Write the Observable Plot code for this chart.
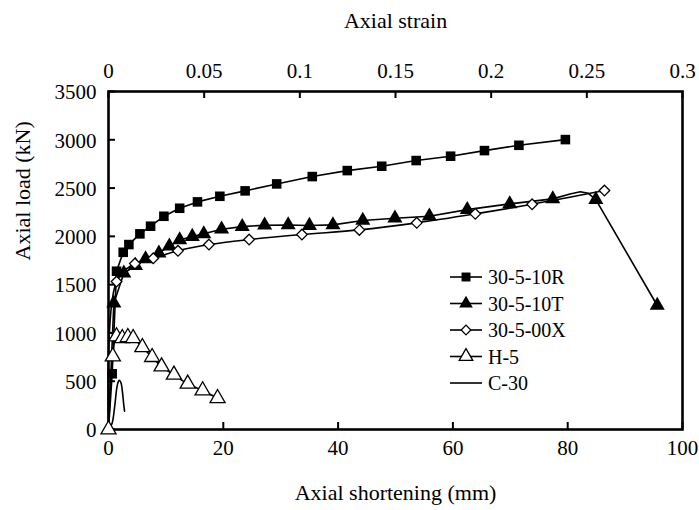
<!DOCTYPE html>
<html><head><meta charset="utf-8">
<script src="https://cdn.jsdelivr.net/npm/d3@7"></script>
<script src="https://cdn.jsdelivr.net/npm/@observablehq/plot@0.6"></script>
<style>body{margin:0;background:#fff;} #chart svg{font-family:"Liberation Serif","Times New Roman",serif;}</style>
</head><body><div id="chart"></div>
<script>
// ---- data (axial shortening mm, axial load kN) ----
const seriesNames = ["30-5-10R", "30-5-10T", "30-5-00X", "H-5", "C-30"];
const r10 = [[0.64,577],[1.4,1639],[2.56,1835],[3.55,1915],[5.47,2026],[7.33,2105],[9.65,2208],[12.4,2291],[15.5,2357],[19.4,2415],[23.8,2471],[29.3,2543],[35.5,2619],[41.6,2681],[47.6,2726],[53.6,2785],[59.6,2830],[65.5,2888],[71.5,2943],[79.6,3002]];
const t10 = [[0.93,1308],[2.67,1618],[4.7,1698],[6.46,1767],[8.78,1826],[10.6,1898],[12.4,1963],[14.6,1998],[16.6,2026],[19.7,2074],[23.3,2101],[27.2,2115],[31.3,2118],[35.0,2112],[39.1,2119],[44.3,2164],[49.9,2188],[55.9,2208],[62.5,2277],[69.9,2336],[77.4,2388],[84.9,2381],[95.6,1284]];
const t10Unmarked = [[80.4,2438],[82.2,2462],[83.6,2446]];
const x00 = [[1.4,1532],[4.6,1718],[7.8,1773],[12.1,1850],[17.5,1915],[24.5,1967],[33.7,2019],[43.7,2067],[53.7,2140],[63.9,2233],[73.8,2332],[86.4,2474]];
const h5 = [[0,0],[0.75,756],[1.4,963],[2.4,945],[3.37,956],[4.3,945],[5.9,852],[7.6,749],[9.25,652],[11.4,566],[13.8,473],[16.4,404],[19.0,324]];
const c30 = [[0,0],[0.6,60],[1.1,250],[1.45,430],[1.75,500],[1.95,508],[2.2,480],[2.45,380],[2.65,260],[2.8,190]];
const origin = [[0,0]];

const xTicks = [0,20,40,60,80,100];
const yTicks = [0,500,1000,1500,2000,2500,3000,3500];
const strainTicks = [0,0.05,0.1,0.15,0.2,0.25,0.3];
const strainLabels = ["0","0.05","0.1","0.15","0.2","0.25","0.3"];
const strainAtXMax = 0.3;   // top axis: strain 0.3 at 100 mm
const xMax = 100;

// ---- layout ----
const W = 699, H = 510, mL = 108, mR = 17, mT = 91, mB = 81;
const pw = W - mL - mR, ph = H - mT - mB;
const serif = "'Liberation Serif', 'Times New Roman', serif";

const pts = (a, s) => a.map(([x, y]) => ({x, y, s}));
const byX = (a) => a.slice().sort((p, q) => p.x - q.x);
const lineR = pts([...origin, ...r10], seriesNames[0]);
const lineT = byX(pts([...origin, ...t10, ...t10Unmarked], seriesNames[1]));
const lineX = pts([...origin, ...x00], seriesNames[2]);
const lineH = pts(h5, seriesNames[3]);
const lineC = pts(c30, seriesNames[4]);
const strainPos = strainTicks.map(s => s / strainAtXMax * xMax);

const lineOpts = {x: "x", y: "y", stroke: "black", strokeWidth: 1.6};

const chart = Plot.plot({
  width: W, height: H,
  marginLeft: mL, marginRight: mR, marginTop: mT, marginBottom: mB,
  style: {fontSize: "21px", fontFamily: serif, background: "white", color: "black"},
  x: {domain: [0, xMax]},
  y: {domain: [0, 3500]},
  marks: [
    Plot.axisX(xTicks, {anchor: "bottom", tickSize: 0, tickPadding: 11, label: null, fontFamily: serif, fontSize: 21, tickFormat: d3.format("d")}),
    Plot.axisX(strainPos, {anchor: "top", tickSize: 0, tickPadding: 14, label: null, fontFamily: serif, fontSize: 21,
      tickFormat: d => strainLabels[strainPos.indexOf(d)]}),
    Plot.axisY(yTicks, {anchor: "left", tickSize: 0, tickPadding: 12, label: null, fontFamily: serif, fontSize: 21, dy: 1, tickFormat: d3.format("d")}),
    Plot.tickX(xTicks, {x: d => d, insetTop: ph - 7, strokeWidth: 2, stroke: "black"}),
    Plot.tickX(strainPos, {x: d => d, insetBottom: ph - 7, strokeWidth: 2, stroke: "black"}),
    Plot.tickY(yTicks, {y: d => d, insetRight: pw - 7, strokeWidth: 2, stroke: "black"}),
    Plot.line(lineR, {...lineOpts, curve: "linear"}),
    Plot.line(lineT, {...lineOpts, curve: "linear"}),
    Plot.line(lineX, {...lineOpts, curve: "catmull-rom"}),
    Plot.line(lineH, {...lineOpts, curve: "catmull-rom"}),
    Plot.line(lineC, {...lineOpts, curve: "catmull-rom"}),
    Plot.frame({stroke: "black", strokeWidth: 2.6}),
    Plot.dot(pts(r10), {x: "x", y: "y", symbol: "square", r: 5.4, fill: "black"}),
    Plot.dot(pts(t10), {x: "x", y: "y", symbol: "triangle", r: 5.6, fill: "black"}),
    Plot.dot(pts(x00), {x: "x", y: "y", symbol: "diamond2", r: 4.8, fill: "white", stroke: "black", strokeWidth: 1.3}),
    Plot.dot(pts(h5), {x: "x", y: "y", symbol: "triangle", r: 5.6, fill: "white", stroke: "black", strokeWidth: 1.3}),
    Plot.text(["Axial shortening (mm)"], {text: d => d, frameAnchor: "bottom", dy: 70, fontSize: 22, fontFamily: serif}),
    Plot.text(["Axial strain"], {text: d => d, frameAnchor: "top", dy: -79, fontSize: 22, fontFamily: serif}),
    Plot.text(["Axial load (kN)"], {text: d => d, frameAnchor: "left", dx: -86, rotate: -90, fontSize: 22, fontFamily: serif})
  ]
});
document.getElementById("chart").appendChild(chart);

// ---- legend ----
const svg = d3.select(chart);
const leg = svg.append("g").attr("transform", "translate(450,277)")
  .attr("text-anchor", "start").attr("font-family", serif);
const legSymbols = [
  {type: d3.symbolSquare, size: 80, fill: "black", stroke: "none"},
  {type: d3.symbolTriangle, size: 80, fill: "black", stroke: "none"},
  {type: d3.symbolDiamond2, size: 60, fill: "white", stroke: "black"},
  {type: d3.symbolTriangle, size: 80, fill: "white", stroke: "black"},
  null
];
seriesNames.forEach((name, i) => {
  const g = leg.append("g").attr("transform", `translate(0,${i * 26.5})`);
  g.append("line").attr("x1", 0).attr("x2", 32).attr("y1", 0).attr("y2", 0)
    .attr("stroke", "black").attr("stroke-width", 1.6);
  const s = legSymbols[i];
  if (s) g.append("path").attr("d", d3.symbol(s.type, s.size)()).attr("transform", "translate(16,0)")
    .attr("fill", s.fill).attr("stroke", s.stroke).attr("stroke-width", 1.3);
  g.append("text").attr("x", 38).attr("y", 0).attr("dy", "0.35em").attr("text-anchor", "start")
    .attr("font-size", 20).attr("fill", "black").text(name);
});
</script>
</body></html>
